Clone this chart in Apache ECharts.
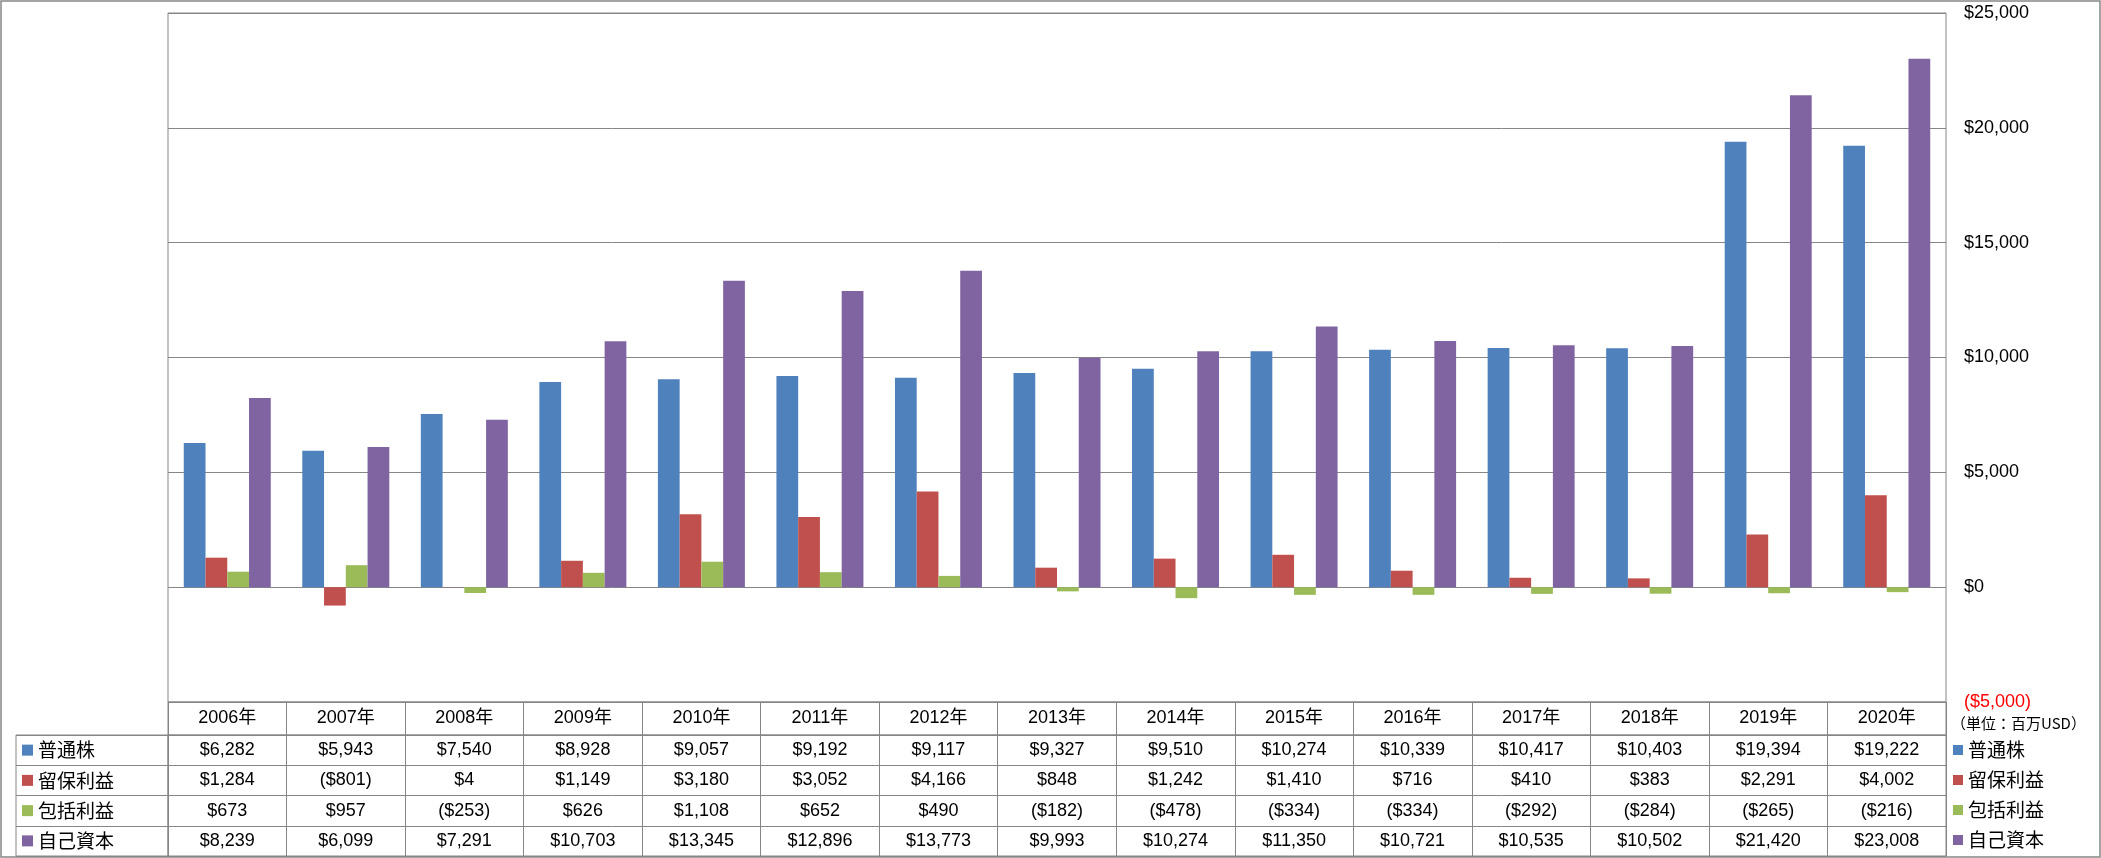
<!DOCTYPE html>
<html>
<head>
<meta charset="utf-8">
<script src="https://cdn.jsdelivr.net/npm/echarts@6/dist/echarts.min.js"></script>
<style>
html,body{margin:0;padding:0;background:#fff;}
#chart{width:2101px;height:858px;}
</style>
</head>
<body>
<div id="chart"></div>
<script>
// ---- data ----
const years = ['2006年','2007年','2008年','2009年','2010年','2011年','2012年','2013年','2014年','2015年','2016年','2017年','2018年','2019年','2020年'];
const seriesNames = ['普通株','留保利益','包括利益','自己資本'];
const commonStock = [6282, 5943, 7540, 8928, 9057, 9192, 9117, 9327, 9510, 10274, 10339, 10417, 10403, 19394, 19222];
const retainedEarnings = [1284, -801, 4, 1149, 3180, 3052, 4166, 848, 1242, 1410, 716, 410, 383, 2291, 4002];
const comprehensiveIncome = [673, 957, -253, 626, 1108, 652, 490, -182, -478, -334, -334, -292, -284, -265, -216];
const equity = [8239, 6099, 7291, 10703, 13345, 12896, 13773, 9993, 10274, 11350, 10721, 10535, 10502, 21420, 23008];
const yTicks = { min: -5000, max: 25000, interval: 5000 };
const unitLabel = '（単位：百万USD）';

const colors = ['#4F81BD', '#C0504D', '#9BBB59', '#8064A2'];
const gridColor = '#868686';
const numFont = "'Liberation Sans','Noto Sans CJK JP',sans-serif";
const cjkFont = "'Noto Sans CJK JP','Liberation Sans',sans-serif";

const seriesValues = [commonStock, retainedEarnings, comprehensiveIncome, equity];

function fmt(v) {
  const s = '$' + Math.abs(v).toLocaleString('en-US');
  return v < 0 ? '(' + s + ')' : s;
}

// table cell data
const headerCells = years.map((y, i) => [i, 0]);
const bodyCells = [];
const bodyText = [];
seriesValues.forEach((arr, r) => {
  arr.forEach((v, i) => { bodyCells.push([i, r]); bodyText.push(fmt(v)); });
});

function textRenderer(textLookup) {
  return function (params, api) {
    const pt = api.coord([api.value(0), api.value(1)]);
    return {
      type: 'text',
      x: pt[0], y: pt[1],
      style: {
        text: textLookup(params.dataIndex),
        align: 'center', verticalAlign: 'middle',
        fontSize: 18, fontFamily: numFont, fill: '#000'
      }
    };
  };
}

const chart = echarts.init(document.getElementById('chart'), null, { renderer: 'canvas' });

const richLabels = {};
seriesNames.forEach((n, i) => {
  richLabels['sq' + i] = { width: 11, height: 11, backgroundColor: colors[i] };
});
richLabels.t = { fontSize: 19, fontFamily: cjkFont, color: '#000', padding: [0, 0, 0, 5] };

const option = {
  animation: false,
  backgroundColor: '#fff',
  color: colors,
  graphic: [{
    type: 'rect', silent: true,
    shape: { x: 1, y: 1, width: 2099, height: 856 },
    style: { fill: 'none', stroke: gridColor, lineWidth: 1.5 }
  }],
  title: {
    text: unitLabel, left: 1951, top: 716, padding: 0,
    textStyle: { fontSize: 15, fontWeight: 'normal', fontFamily: cjkFont, color: '#000' }
  },
  legend: {
    data: seriesNames, orient: 'vertical', left: 1953, top: 740, padding: 0,
    itemWidth: 10, itemHeight: 10, itemGap: 10, icon: 'rect',
    textStyle: { fontSize: 19, lineHeight: 20, fontFamily: cjkFont, color: '#000', padding: [0, 0, 0, 0] }
  },
  grid: [
    { left: 168, right: 155, top: 13, height: 689, show: true, borderColor: gridColor, borderWidth: 1 },
    { left: 168, right: 155, top: 702, height: 33, show: true, borderColor: gridColor, borderWidth: 1 },
    { left: 168, right: 155, top: 735, height: 121, show: true, borderColor: gridColor, borderWidth: 1 },
    { left: 16, width: 152, top: 735, height: 121, show: true, borderColor: gridColor, borderWidth: 1 }
  ],
  xAxis: [
    { type: 'category', gridIndex: 0, data: years, axisLine: { show: false }, axisTick: { show: false }, axisLabel: { show: false } },
    { type: 'category', gridIndex: 1, data: years, axisLine: { show: false }, axisTick: { show: false }, axisLabel: { show: false, interval: 0 },
      splitLine: { show: true, interval: 0, lineStyle: { color: gridColor } } },
    { type: 'category', gridIndex: 2, data: years, axisLine: { show: false }, axisTick: { show: false }, axisLabel: { show: false, interval: 0 },
      splitLine: { show: true, interval: 0, lineStyle: { color: gridColor } } },
    { type: 'value', gridIndex: 3, show: false }
  ],
  yAxis: [
    { type: 'value', gridIndex: 0, position: 'right', min: yTicks.min, max: yTicks.max, interval: yTicks.interval,
      axisLine: { show: false }, axisTick: { show: false },
      splitLine: { show: true, lineStyle: { color: gridColor } },
      axisLabel: {
        margin: 18, fontSize: 18, fontFamily: numFont, color: '#000',
        formatter: v => v < 0 ? '{neg|' + fmt(v) + '}' : fmt(v),
        rich: { neg: { color: '#FF0000', fontSize: 18, fontFamily: numFont } }
      } },
    { type: 'category', gridIndex: 1, data: [''], show: false },
    { type: 'category', gridIndex: 2, data: seriesNames, inverse: true,
      axisLine: { show: false }, axisTick: { show: false }, axisLabel: { show: false, interval: 0 },
      splitLine: { show: true, interval: 0, lineStyle: { color: gridColor } } },
    { type: 'category', gridIndex: 3, data: seriesNames, inverse: true,
      axisLine: { show: false }, axisTick: { show: false },
      splitLine: { show: true, interval: 0, lineStyle: { color: gridColor } },
      axisLabel: {
        inside: true, margin: 6, align: 'left', interval: 0,
        formatter: (v, i) => '{sq' + i + '|}{t|' + v + '}',
        rich: richLabels
      } }
  ],
  series: seriesNames.map((n, k) => ({
    name: n, type: 'bar', xAxisIndex: 0, yAxisIndex: 0,
    data: seriesValues[k], barGap: '0%', barCategoryGap: '26.6%',
    itemStyle: { color: colors[k] }
  })).concat([
    { name: 'header', type: 'custom', xAxisIndex: 1, yAxisIndex: 1, data: headerCells, silent: true,
      encode: { x: 0, y: 1 }, renderItem: textRenderer(i => years[i]) },
    { name: 'body', type: 'custom', xAxisIndex: 2, yAxisIndex: 2, data: bodyCells, silent: true,
      encode: { x: 0, y: 1 }, renderItem: textRenderer(i => bodyText[i]) }
  ])
};
chart.setOption(option);
</script>
</body>
</html>
